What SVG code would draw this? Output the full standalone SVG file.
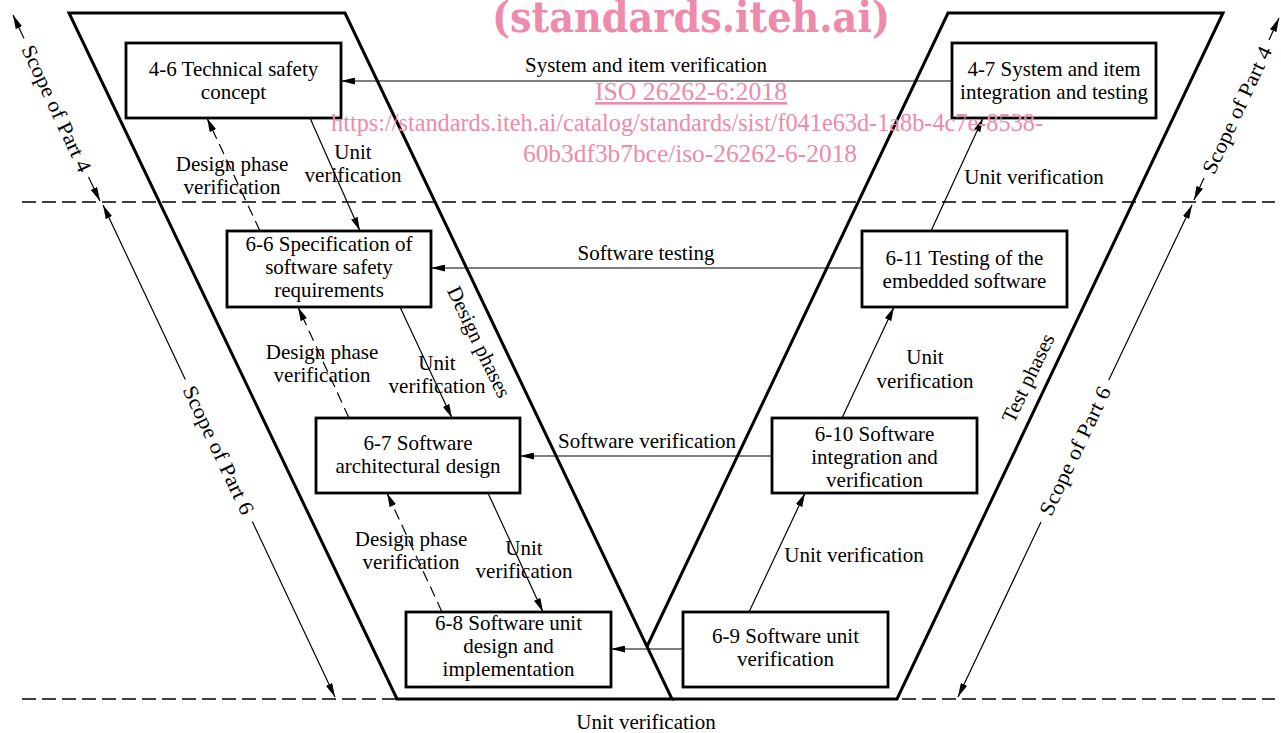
<svg xmlns="http://www.w3.org/2000/svg" width="1281" height="733" viewBox="0 0 1281 733">
<style>
text{font-family:"Liberation Serif","Times New Roman",serif;font-size:21px;fill:#000;text-anchor:middle}
.box{fill:#fff;stroke:#000;stroke-width:2.8}
.frame{fill:none;stroke:#000;stroke-width:3}
.dash{fill:none;stroke:#000;stroke-width:1.5;stroke-dasharray:14 6}
.arr{fill:none;stroke:#000;stroke-width:1.2;marker-end:url(#ah)}
.darr{fill:none;stroke:#000;stroke-width:1.2;stroke-dasharray:11 6;marker-end:url(#ah)}
.scope{fill:none;stroke:#000;stroke-width:1.2}
.wm{fill:#ee8aab;font-family:"Liberation Serif","Times New Roman",serif}
.wmb{fill:#ee8aab;font-family:"DejaVu Serif","Liberation Serif",serif;font-weight:bold}
</style>
<defs>
<marker id="ah" viewBox="0 0 14 7" markerWidth="14" markerHeight="7" refX="14" refY="3.5" orient="auto-start-reverse" markerUnits="userSpaceOnUse">
<path d="M0,0 L14,3.5 L0,7 z" fill="#000"/>
</marker>
</defs>
<rect width="1281" height="733" fill="#fff"/>

<g id="frames">
<line class="dash" x1="22" y1="202" x2="1275" y2="202"/>
<line class="dash" x1="22" y1="699" x2="1275" y2="699"/>
<polygon class="frame" points="69,13 345,13 672,699 397,699"/>
<polyline class="frame" points="647,646.5 948,13 1223,13 897,699 672,699"/>
<text transform="translate(479,342) rotate(64.45)" y="7">Design phases</text>
<text transform="translate(1028,378) rotate(-64.45)" y="7">Test phases</text>
</g>

<g id="scopes">
<line class="scope" x1="24" y1="38.6" x2="13" y2="15" marker-end="url(#ah)"/>
<line class="scope" x1="88.5" y1="177" x2="100" y2="201" marker-end="url(#ah)"/>
<text transform="translate(56.5,108.5) rotate(65.05)" y="7" textLength="138" lengthAdjust="spacingAndGlyphs">Scope of Part 4</text>
<line class="scope" x1="185.3" y1="379.6" x2="103" y2="205" marker-end="url(#ah)"/>
<line class="scope" x1="252.3" y1="521.6" x2="335" y2="697" marker-end="url(#ah)"/>
<text transform="translate(218.5,450) rotate(64.76)" y="7" textLength="140" lengthAdjust="spacingAndGlyphs">Scope of Part 6</text>
<line class="scope" x1="1204" y1="178" x2="1194" y2="200" marker-end="url(#ah)"/>
<line class="scope" x1="1269" y1="40" x2="1279" y2="18" marker-end="url(#ah)"/>
<text transform="translate(1237,110) rotate(-64.95)" y="7" textLength="138" lengthAdjust="spacingAndGlyphs">Scope of Part 4</text>
<line class="scope" x1="1108.8" y1="380" x2="1192" y2="205" marker-end="url(#ah)"/>
<line class="scope" x1="1041" y1="522" x2="958" y2="697" marker-end="url(#ah)"/>
<text transform="translate(1075,451) rotate(-64.56)" y="7" textLength="140" lengthAdjust="spacingAndGlyphs">Scope of Part 6</text>
</g>

<g id="connectors">
<line class="arr" x1="952" y1="81" x2="341" y2="81"/>
<text x="646" y="72">System and item verification</text>
<line class="arr" x1="862" y1="268" x2="431" y2="268"/>
<text x="646" y="260">Software testing</text>
<line class="arr" x1="772" y1="456" x2="520" y2="456"/>
<text x="647" y="448">Software verification</text>
<line class="arr" x1="683" y1="649" x2="611" y2="649"/>
<text x="646" y="729">Unit verification</text>

<line class="arr" x1="310" y1="118" x2="360" y2="231"/>
<text x="353" y="159">Unit</text><text x="353" y="182">verification</text>
<line class="darr" x1="260" y1="231" x2="207" y2="118"/>
<text x="232" y="171">Design phase</text><text x="232" y="194">verification</text>

<line class="arr" x1="400" y1="307" x2="452" y2="418"/>
<text x="437" y="370">Unit</text><text x="437" y="393">verification</text>
<line class="darr" x1="349" y1="418" x2="298" y2="307"/>
<text x="322" y="359">Design phase</text><text x="322" y="382">verification</text>

<line class="arr" x1="488" y1="493" x2="543" y2="612"/>
<text x="524" y="555">Unit</text><text x="524" y="578">verification</text>
<line class="darr" x1="442" y1="612" x2="387" y2="493"/>
<text x="411" y="546">Design phase</text><text x="411" y="569">verification</text>

<line class="arr" x1="749" y1="612" x2="805" y2="493"/>
<text x="854" y="562">Unit verification</text>
<line class="arr" x1="842" y1="418" x2="894" y2="307"/>
<text x="925" y="364">Unit</text><text x="925" y="388">verification</text>
<line class="arr" x1="931" y1="231" x2="983" y2="118"/>
<text x="1034" y="184">Unit verification</text>
</g>

<g id="n46"><rect class="box" x="126" y="43" width="215" height="75"/><text x="233.5" y="76">4-6 Technical safety</text><text x="233.5" y="99">concept</text></g>
<g id="n47"><rect class="box" x="952" y="43" width="204" height="75"/><text x="1054" y="76">4-7 System and item</text><text x="1054" y="99">integration and testing</text></g>
<g id="n66"><rect class="box" x="227" y="231" width="204" height="76"/><text x="329" y="251">6-6 Specification of</text><text x="329" y="274">software safety</text><text x="329" y="297">requirements</text></g>
<g id="n611"><rect class="box" x="862" y="231" width="205" height="76"/><text x="964.5" y="265">6-11 Testing of the</text><text x="964.5" y="288">embedded software</text></g>
<g id="n67"><rect class="box" x="316" y="418" width="204" height="75"/><text x="418" y="450">6-7 Software</text><text x="418" y="473">architectural design</text></g>
<g id="n610"><rect class="box" x="772" y="418" width="205" height="75"/><text x="874.5" y="441">6-10 Software</text><text x="874.5" y="464">integration and</text><text x="874.5" y="487">verification</text></g>
<g id="n68"><rect class="box" x="406" y="612" width="205" height="75"/><text x="508.5" y="630">6-8 Software unit</text><text x="508.5" y="653">design and</text><text x="508.5" y="676">implementation</text></g>
<g id="n69"><rect class="box" x="683" y="612" width="205" height="75"/><text x="785.5" y="643">6-9 Software unit</text><text x="785.5" y="666">verification</text></g>

<g id="watermark">
<text class="wmb" x="691" y="32" style="font-size:42px" textLength="398" lengthAdjust="spacingAndGlyphs">(standards.iteh.ai)</text>
<text class="wm" x="691" y="100" style="font-size:26px;text-decoration:underline" textLength="192" lengthAdjust="spacingAndGlyphs">ISO 26262-6:2018</text>
<text class="wm" x="687" y="131" style="font-size:26px" textLength="712" lengthAdjust="spacingAndGlyphs">https://standards.iteh.ai/catalog/standards/sist/f041e63d-1a8b-4c7e-8538-</text>
<text class="wm" x="690" y="162" style="font-size:26px" textLength="334" lengthAdjust="spacingAndGlyphs">60b3df3b7bce/iso-26262-6-2018</text>
</g>
</svg>
